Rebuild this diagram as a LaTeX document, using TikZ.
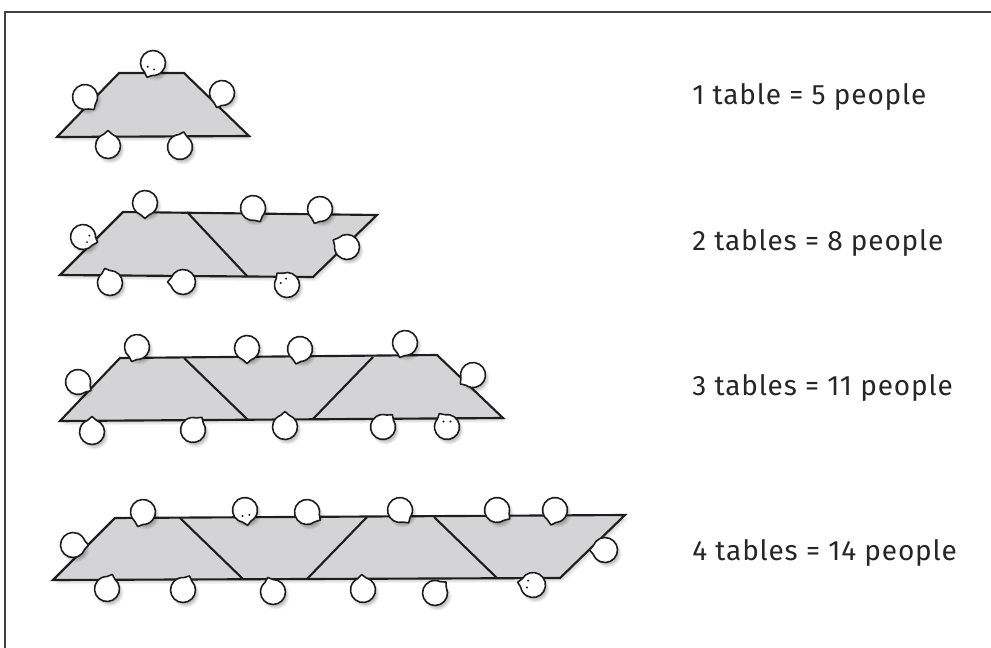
\documentclass[tikz,border=0pt]{standalone}
\usepackage{fontspec}
\newfontfamily\handfont[LetterSpace=3]{Fira Sans}
\definecolor{tabgray}{RGB}{212,212,214}
\definecolor{inkline}{RGB}{30,30,30}
\tikzset{
  tabletop/.style={fill=tabgray, draw=inkline, line width=1.6pt, line join=miter},
  divider/.style={draw=inkline, line width=1.6pt},
  seatline/.style={fill=white, draw=inkline, line width=1.2pt, line join=round},
  caption/.style={anchor=base west, inner sep=0pt, font=\handfont\fontsize{21}{25}\selectfont, text=black!85},
  frameline/.style={draw=black!75, line width=1.4pt}
}
% one seat: centre x, centre y, direction of its small pointed tip
\newcommand{\seat}[3]{%
  \begin{scope}[shift={(#1,#2)}]
    \foreach \k in {1,...,5} \fill[black,opacity=0.06] (2.5,3.5) circle[radius=9+\k];
    \draw[seatline] (#3+20:12.5) arc[start angle=#3+20, end angle=#3+340, radius=12.5] -- (#3:15.5) -- cycle;
  \end{scope}}
% two dots near the tip of a seat
\newcommand{\seateyes}[3]{%
  \begin{scope}[shift={(#1,#2)}]
    \fill[inkline] (#3+32:6.5) circle[radius=1.1];
    \fill[inkline] (#3-32:6.5) circle[radius=1.1];
  \end{scope}}
% soft shadow under a table outline
\newcommand{\tableshadow}[1]{%
  \foreach \k in {1,...,4} \fill[black,opacity=0.05,shift={(0.8*\k,1.1*\k)}] #1;}
\begin{document}
\begin{tikzpicture}[x=0.75pt,y=-0.75pt]
\useasboundingbox (0,0) rectangle (991,648);
\draw[frameline] (5,648) -- (5,12) -- (991,12);

% ---- one table ----
\tableshadow{(57,137) -- (119,73) -- (184,73) -- (249,136) -- cycle}
\draw[tabletop] (57,137) -- (119,73) -- (184,73) -- (249,136) -- cycle;
\seat{153}{63}{113}\seateyes{153}{63}{113}
\seat{85}{97}{54}
\seat{222}{93}{110}
\seat{108}{146}{-90}
\seat{180}{147}{-76}

% ---- two tables ----
\tableshadow{(60,275) -- (123,212) -- (377,215) -- (313,277) -- cycle}
\draw[tabletop] (60,275) -- (123,212) -- (377,215) -- (313,277) -- cycle;
\draw[divider] (187,212) -- (247,276);
\seat{145}{203}{90}
\seat{253}{208}{62}
\seat{320}{209}{111}
\seat{83}{237}{20}\seateyes{83}{237}{20}
\seat{347}{247}{207}
\seat{110}{283}{-110}
\seat{183}{282}{180}
\seat{287}{285}{-130}\seateyes{287}{285}{-130}

% ---- three tables ----
\tableshadow{(60,421) -- (120,358) -- (437,355) -- (503,418) -- cycle}
\draw[tabletop] (60,421) -- (120,358) -- (437,355) -- (503,418) -- cycle;
\draw[divider] (184,358) -- (248,420);
\draw[divider] (313,419) -- (373,357);
\seat{137}{347}{110}
\seat{247}{348}{90}
\seat{300}{349}{105}
\seat{405}{343}{110}
\seat{78}{382}{34}
\seat{473}{375}{145}
\seat{92}{432}{-90}
\seat{193}{430}{-55}
\seat{285}{427}{-90}
\seat{383}{427}{-53}
\seat{447}{427}{-120}\seateyes{447}{427}{-90}

% ---- four tables ----
\tableshadow{(53,580) -- (115,518) -- (625,515) -- (560,578) -- cycle}
\draw[tabletop] (53,580) -- (115,518) -- (625,515) -- (560,578) -- cycle;
\draw[divider] (180,518) -- (243,579);
\draw[divider] (307,579) -- (367,517);
\draw[divider] (434,517) -- (497,578);
\seat{143}{512}{110}
\seat{245}{510}{80}\seateyes{245}{510}{80}
\seat{307}{512}{31}
\seat{400}{510}{56}
\seat{497}{510}{35}
\seat{555}{510}{105}
\seat{73}{545}{0}
\seat{605}{550}{180}
\seat{107}{589}{-70}
\seat{183}{590}{-65}
\seat{273}{592}{-110}
\seat{363}{590}{-95}
\seat{435}{593}{-45}
\seat{533}{585}{190}\seateyes{533}{585}{190}

% ---- captions ----
\node[caption] (cap1) at (692,105) {1 table = 5 people};
\node[caption] (cap2) at (692,251) {2 tables = 8 people};
\node[caption] (cap3) at (692,395) {3 tables = 11 people};
\node[caption] (cap4) at (692,560) {4 tables = 14 people};
\end{tikzpicture}
\end{document}
